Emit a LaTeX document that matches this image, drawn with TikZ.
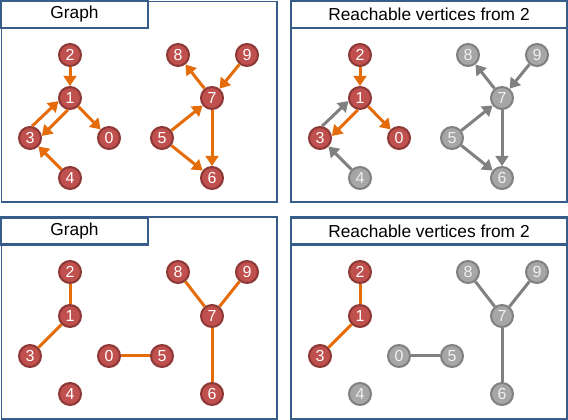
\documentclass[tikz,border=0pt]{standalone}
\usepackage{fontspec}
\setmainfont{Liberation Sans}
\usetikzlibrary{arrows.meta}

\definecolor{vred}{RGB}{192,80,77}
\definecolor{vredline}{RGB}{140,56,54}
\definecolor{vgray}{RGB}{166,166,166}
\definecolor{vgrayline}{RGB}{128,128,128}
\definecolor{eorange}{RGB}{228,108,10}
\definecolor{egray}{RGB}{128,128,128}
\definecolor{pblue}{RGB}{56,93,138}

\tikzset{every picture/.style={line width=0.75pt}}
\tikzset{
  vtx/.style={circle, fill=vred, draw=vredline, line width=1.5pt, minimum size=16.5pt, inner sep=0pt, text=white, font=\fontsize{12}{12}\selectfont},
  gvtx/.style={vtx, fill=vgray, draw=vgrayline, text=white!94!black},
  arr/.style={draw=eorange, line width=2.25pt, -{Triangle[length=7.5pt,width=9.5pt]}},
  garr/.style={arr, draw=egray},
  edg/.style={draw=eorange, line width=2.25pt},
  gedg/.style={edg, draw=egray},
  panel/.style={draw=pblue, line width=1pt},
  titlebox/.style={draw=pblue, line width=1.8pt, fill=white, inner sep=0pt, minimum height=20.25pt, font=\fontsize{13}{13}\selectfont}
}

\begin{document}
\begin{tikzpicture}[x=0.75pt,y=0.75pt,yscale=-1,xscale=1]
	\useasboundingbox (0,0) rectangle (568,420);

	%Panels
	\draw [panel] (1.5,1.5) rectangle (277,202) ;
	\draw [panel] (291,1.5) rectangle (567,202) ;
	\draw [panel] (1.5,217) rectangle (277,419) ;
	\draw [panel] (291,217) rectangle (567,419) ;

	% Title Nodes
	\node [titlebox, minimum width=110pt] (ta) at (74.5,14.5) {Graph};
	\node [titlebox, minimum width=207pt] (tb) at (429,14.5) {Reachable vertices from 2};
	\node [titlebox, minimum width=110pt] (tc) at (74.5,231) {Graph};
	\node [titlebox, minimum width=207pt] (td) at (429,231) {Reachable vertices from 2};

	%Digraph
	\node [vtx] (a2) at (70,55) {2};
	\node [vtx] (a1) at (70,98) {1};
	\node [vtx] (a3) at (30,138) {3};
	\node [vtx] (a0) at (109,138) {0};
	\node [vtx] (a4) at (70,178) {4};
	\node [vtx] (a8) at (178,55) {8};
	\node [vtx] (a9) at (247,55) {9};
	\node [vtx] (a7) at (212,98) {7};
	\node [vtx] (a5) at (162,138) {5};
	\node [vtx] (a6) at (212,178) {6};
	\draw [arr] (a2) -- (a1) ;
	\draw [arr] (a3.80) -- (a1.195) ;
	\draw [arr] (a1.260) -- (a3.10) ;
	\draw [arr] (a1) -- (a0) ;
	\draw [arr] (a4) -- (a3) ;
	\draw [arr] (a7) -- (a8) ;
	\draw [arr] (a9) -- (a7) ;
	\draw [arr] (a5) -- (a7) ;
	\draw [arr] (a5) -- (a6) ;
	\draw [arr] (a7) -- (a6) ;

	%Digraph, reachable from 2
	\node [vtx] (b2) at (360,55) {2};
	\node [vtx] (b1) at (360,98) {1};
	\node [vtx] (b3) at (320,138) {3};
	\node [vtx] (b0) at (399,138) {0};
	\node [gvtx] (b4) at (360,178) {4};
	\node [gvtx] (b8) at (468,55) {8};
	\node [gvtx] (b9) at (537,55) {9};
	\node [gvtx] (b7) at (502,98) {7};
	\node [gvtx] (b5) at (452,138) {5};
	\node [gvtx] (b6) at (502,178) {6};
	\draw [arr] (b2) -- (b1) ;
	\draw [garr] (b3.80) -- (b1.195) ;
	\draw [arr] (b1.260) -- (b3.10) ;
	\draw [arr] (b1) -- (b0) ;
	\draw [garr] (b4) -- (b3) ;
	\draw [garr] (b7) -- (b8) ;
	\draw [garr] (b9) -- (b7) ;
	\draw [garr] (b5) -- (b7) ;
	\draw [garr] (b5) -- (b6) ;
	\draw [garr] (b7) -- (b6) ;

	%Graph
	\node [vtx] (c2) at (70,272) {2};
	\node [vtx] (c1) at (70,316) {1};
	\node [vtx] (c3) at (30,356) {3};
	\node [vtx] (c0) at (109,356) {0};
	\node [vtx] (c5) at (162,356) {5};
	\node [vtx] (c4) at (70,394) {4};
	\node [vtx] (c8) at (178,272) {8};
	\node [vtx] (c9) at (247,272) {9};
	\node [vtx] (c7) at (212,316) {7};
	\node [vtx] (c6) at (212,394) {6};
	\draw [edg] (c2) -- (c1) ;
	\draw [edg] (c1) -- (c3) ;
	\draw [edg] (c0) -- (c5) ;
	\draw [edg] (c8) -- (c7) ;
	\draw [edg] (c9) -- (c7) ;
	\draw [edg] (c7) -- (c6) ;

	%Graph, reachable from 2
	\node [vtx] (d2) at (360,272) {2};
	\node [vtx] (d1) at (360,316) {1};
	\node [vtx] (d3) at (320,356) {3};
	\node [gvtx] (d0) at (399,356) {0};
	\node [gvtx] (d5) at (452,356) {5};
	\node [gvtx] (d4) at (360,394) {4};
	\node [gvtx] (d8) at (468,272) {8};
	\node [gvtx] (d9) at (537,272) {9};
	\node [gvtx] (d7) at (502,316) {7};
	\node [gvtx] (d6) at (502,394) {6};
	\draw [edg] (d2) -- (d1) ;
	\draw [edg] (d1) -- (d3) ;
	\draw [gedg] (d0) -- (d5) ;
	\draw [gedg] (d8) -- (d7) ;
	\draw [gedg] (d9) -- (d7) ;
	\draw [gedg] (d7) -- (d6) ;

\end{tikzpicture}
\end{document}
